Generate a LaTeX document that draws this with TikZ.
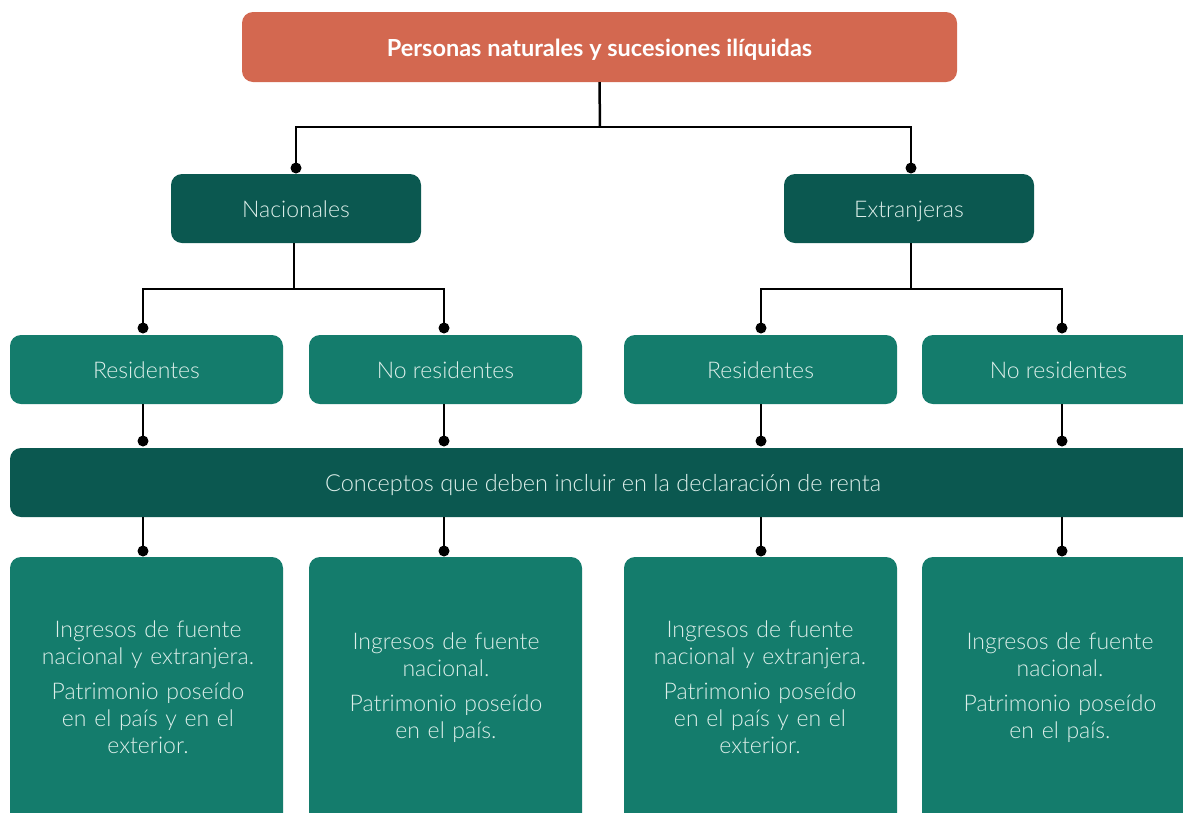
\documentclass[tikz,border=0pt]{standalone}
\usepackage{fontspec}
\setmainfont{Lato Light}[BoldFont=Lato Bold]
\usetikzlibrary{calc}
\definecolor{orangebox}{HTML}{D36850}
\definecolor{darkgreen}{HTML}{0B5850}
\definecolor{midgreen}{HTML}{147C6C}
\definecolor{paletext}{HTML}{DDEFEA}
\tikzset{
  box/.style={rounded corners=11pt, inner sep=0pt, align=center, font=\fontsize{23}{27}\selectfont, text=paletext},
  oneline/.style={text height=18pt, text depth=0pt},
  topbox/.style={box, oneline, fill=orangebox, text=white, font=\bfseries\fontsize{23.5}{27}\selectfont},
  darkbox/.style={box, fill=darkgreen},
  midbox/.style={box, fill=midgreen},
  conn/.style={line width=2.5pt, black},
  dot/.style={circle, fill=black, inner sep=0pt, minimum size=11pt},
}
\begin{document}
\begin{tikzpicture}[x=1pt,y=-1pt]
\useasboundingbox (0,0) rectangle (1183,812);
\fill[white] (0,0) rectangle (1183,812);
\clip (0,0) rectangle (1183,812);
\coordinate (jt) at (600,127);
\coordinate (dN) at (296,168);
\coordinate (dE) at (911,168);
\coordinate (jn) at (294,289);
\coordinate (je) at (911,289);
\coordinate (d1) at (143,328);
\coordinate (d2) at (444,328);
\coordinate (d3) at (761,328);
\coordinate (d4) at (1062,328);
\coordinate (c1) at (143,441);
\coordinate (c2) at (444,441);
\coordinate (c3) at (761,441);
\coordinate (c4) at (1062,441);
\coordinate (b1) at (143,551);
\coordinate (b2) at (444,551);
\coordinate (b3) at (761,551);
\coordinate (b4) at (1062,551);

\node[topbox, minimum width=715pt, minimum height=70pt] (top) at (599.5,47) {Personas naturales y sucesiones ilíquidas};
\node[darkbox, oneline, minimum width=250pt, minimum height=69pt] (nac) at (296,208.5) {Nacionales};
\node[darkbox, oneline, minimum width=250pt, minimum height=69pt] (ext) at (909,208.5) {Extranjeras};
\node[midbox, oneline, minimum width=273pt, minimum height=69pt] (r1) at (146.5,369.5) {Residentes};
\node[midbox, oneline, minimum width=273pt, minimum height=69pt] (r2) at (445.5,369.5) {No residentes};
\node[midbox, oneline, minimum width=273pt, minimum height=69pt] (r3) at (760.5,369.5) {Residentes};
\node[midbox, oneline, minimum width=273pt, minimum height=69pt] (r4) at (1058.5,369.5) {No residentes};
\node[darkbox, minimum width=1190pt, minimum height=69pt] (con) at (605,482.5) {};
\node[box, oneline, font=\fontsize{23.5}{27}\selectfont] (contxt) at (603,482.5) {Conceptos que deben incluir en la declaración de renta};
\node[midbox, minimum width=273pt, minimum height=280pt] (i1) at (146.5,697) {};
\node[midbox, minimum width=273pt, minimum height=280pt] (i2) at (445.5,697) {};
\node[midbox, minimum width=273pt, minimum height=280pt] (i3) at (760.5,697) {};
\node[midbox, minimum width=273pt, minimum height=280pt] (i4) at (1058.5,697) {};

\node[midbox, fill=none, text width=268pt] (t1) at (148,687) {Ingresos de fuente\\nacional y extranjera.\\[8pt]Patrimonio poseído\\en el país y en el\\exterior.};
\node[midbox, fill=none, text width=268pt] (t2) at (446,688) {Ingresos de fuente\\nacional.\\[8pt]Patrimonio poseído\\en el país.};
\node[midbox, fill=none, text width=268pt] (t3) at (760,687) {Ingresos de fuente\\nacional y extranjera.\\[8pt]Patrimonio poseído\\en el país y en el\\exterior.};
\node[midbox, fill=none, text width=268pt] (t4) at (1060,688) {Ingresos de fuente\\nacional.\\[8pt]Patrimonio poseído\\en el país.};

\draw[conn] (top.south) -- (jt);
\draw[conn] (dN) |- (jt) -| (dE);
\draw[conn] (nac.south -| jn) -- (jn);
\draw[conn] (d1) |- (jn) -| (d2);
\draw[conn] (ext.south -| je) -- (je);
\draw[conn] (d3) |- (je) -| (d4);
\foreach \r/\c in {r1/c1,r2/c2,r3/c3,r4/c4}{\draw[conn] (\r.south -| \c) -- (\c);}
\foreach \c/\b in {c1/b1,c2/b2,c3/b3,c4/b4}{\draw[conn] (con.south -| \b) -- (\b);}
\foreach \d in {dN,dE,d1,d2,d3,d4,c1,c2,c3,c4,b1,b2,b3,b4}{\node[dot] at (\d) {};}
\end{tikzpicture}
\end{document}
